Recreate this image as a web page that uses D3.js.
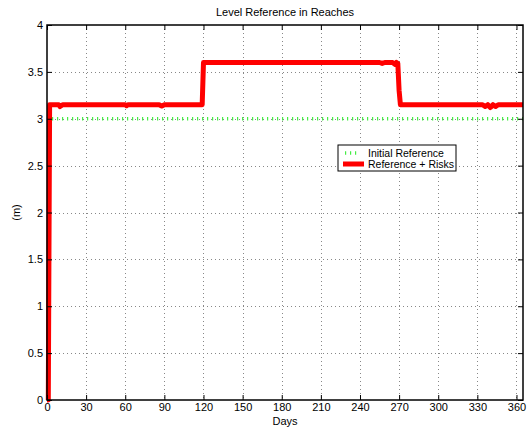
<!DOCTYPE html>
<html>
<head>
<meta charset="utf-8">
<script src="https://cdn.jsdelivr.net/npm/d3@7"></script>
<style>
	body { margin: 0; background: #fff; }
	svg text { font-family: "Liberation Sans", Arial, sans-serif; font-size: 11px; fill: #000; }
</style>
</head>
<body>
<svg id="chart" width="531" height="428"></svg>
<script>
// data
var riskDays   = [0, 1, 2, 9, 10, 12, 60, 61, 62, 86, 88, 90, 119, 120, 121, 255, 257, 259, 265, 267, 268, 269, 270, 271, 334, 336, 338, 340, 342, 344, 346, 365];
var riskLevels = [0, 0, 3.15, 3.15, 3.13, 3.15, 3.15, 3.14, 3.15, 3.15, 3.135, 3.15, 3.15, 3.6, 3.6, 3.6, 3.59, 3.6, 3.6, 3.58, 3.6, 3.59, 3.3, 3.15, 3.15, 3.13, 3.15, 3.12, 3.15, 3.13, 3.15, 3.15];
var initDays   = [0, 365];
var initLevels = [3, 3];
var xTicks = [0, 30, 60, 90, 120, 150, 180, 210, 240, 270, 300, 330, 360];
var yTicks = [0, 0.5, 1, 1.5, 2, 2.5, 3, 3.5, 4];

var margin = {top: 25, right: 8, bottom: 28, left: 47},
	width = 531 - margin.left - margin.right,
	height = 428 - margin.top - margin.bottom;

var x = d3.scaleLinear().domain([0, 365]).range([0, width]),
	y = d3.scaleLinear().domain([0, 4]).range([height, 0]);

var svg = d3.select("#chart");
var g = svg.append("g")
	.attr("transform", "translate(" + margin.left + "," + margin.top + ")");

// grid
g.append("g").selectAll("line")
	.data(xTicks.slice(1))
	.enter().append("line")
	.attr("x1", d => Math.round(x(d)) + 0.5).attr("x2", d => Math.round(x(d)) + 0.5)
	.attr("y1", 0).attr("y2", height)
	.attr("stroke", "#888").attr("stroke-width", 1)
	.attr("stroke-dasharray", "1,3");
g.append("g").selectAll("line")
	.data(yTicks.slice(1, -1))
	.enter().append("line")
	.attr("x1", 0).attr("x2", width)
	.attr("y1", d => Math.round(y(d)) + 0.5).attr("y2", d => Math.round(y(d)) + 0.5)
	.attr("stroke", "#888").attr("stroke-width", 1)
	.attr("stroke-dasharray", "1,3");

var line = d3.line()
	.x(function(d) { return x(d[0]); })
	.y(function(d) { return y(d[1]); });

// initial reference (green dotted)
g.append("path")
	.datum(d3.zip(initDays, initLevels))
	.attr("fill", "none")
	.attr("stroke", "#44ee44")
	.attr("stroke-width", 3.5)
	.attr("stroke-dasharray", "1.2,3.8")
	.attr("d", line);

// reference + risks (red thick)
g.append("path")
	.datum(d3.zip(riskDays, riskLevels))
	.attr("fill", "none")
	.attr("stroke", "#ff0000")
	.attr("stroke-width", 5)
	.attr("stroke-linejoin", "round")
	.attr("d", line);

// axes (MATLAB style: inward ticks on all four sides)
var tl = 5;
g.append("g")
	.attr("transform", "translate(0," + height + ")")
	.call(d3.axisBottom(x).tickValues(xTicks).tickSizeInner(-tl).tickSizeOuter(0).tickPadding(3))
	.call(a => a.select(".domain").remove());
g.append("g")
	.call(d3.axisTop(x).tickValues(xTicks).tickSizeInner(-tl).tickSizeOuter(0).tickFormat(""))
	.call(a => a.select(".domain").remove());
g.append("g")
	.call(d3.axisLeft(y).tickValues(yTicks).tickSizeInner(-tl).tickSizeOuter(0).tickPadding(4).tickFormat(d3.format("")))
	.call(a => a.select(".domain").remove());
g.append("g")
	.attr("transform", "translate(" + width + ",0)")
	.call(d3.axisRight(y).tickValues(yTicks).tickSizeInner(-tl).tickSizeOuter(0).tickFormat(""))
	.call(a => a.select(".domain").remove());
g.selectAll(".tick line").attr("stroke", "#000");
g.selectAll(".tick text").style("font-size", "11px");

g.append("rect")
	.attr("width", width).attr("height", height)
	.attr("fill", "none").attr("stroke", "#000").attr("stroke-width", 1.5);

// titles
svg.append("text")
	.attr("x", margin.left + width / 2).attr("y", 16)
	.attr("text-anchor", "middle")
	.text("Level Reference in Reaches");
svg.append("text")
	.attr("x", margin.left + width / 2).attr("y", 425)
	.attr("text-anchor", "middle")
	.text("Days");
svg.append("text")
	.attr("transform", "translate(20," + (margin.top + height / 2) + ") rotate(-90)")
	.attr("text-anchor", "middle")
	.text("(m)");

// legend
var lg = svg.append("g").attr("transform", "translate(338,145)");
lg.append("rect")
	.attr("width", 118).attr("height", 26)
	.attr("fill", "#fff").attr("stroke", "#000").attr("stroke-width", 1);
lg.append("line")
	.attr("x1", 7).attr("x2", 22).attr("y1", 8).attr("y2", 8)
	.attr("stroke", "#44ee44").attr("stroke-width", 3.5).attr("stroke-dasharray", "1.2,3.8");
lg.append("line")
	.attr("x1", 5).attr("x2", 26).attr("y1", 19).attr("y2", 19)
	.attr("stroke", "#ff0000").attr("stroke-width", 5);
lg.append("text").attr("x", 30).attr("y", 12).style("font-size", "10.5px").text("Initial Reference");
lg.append("text").attr("x", 30).attr("y", 23).style("font-size", "10.5px").text("Reference + Risks");
</script>
</body>
</html>
